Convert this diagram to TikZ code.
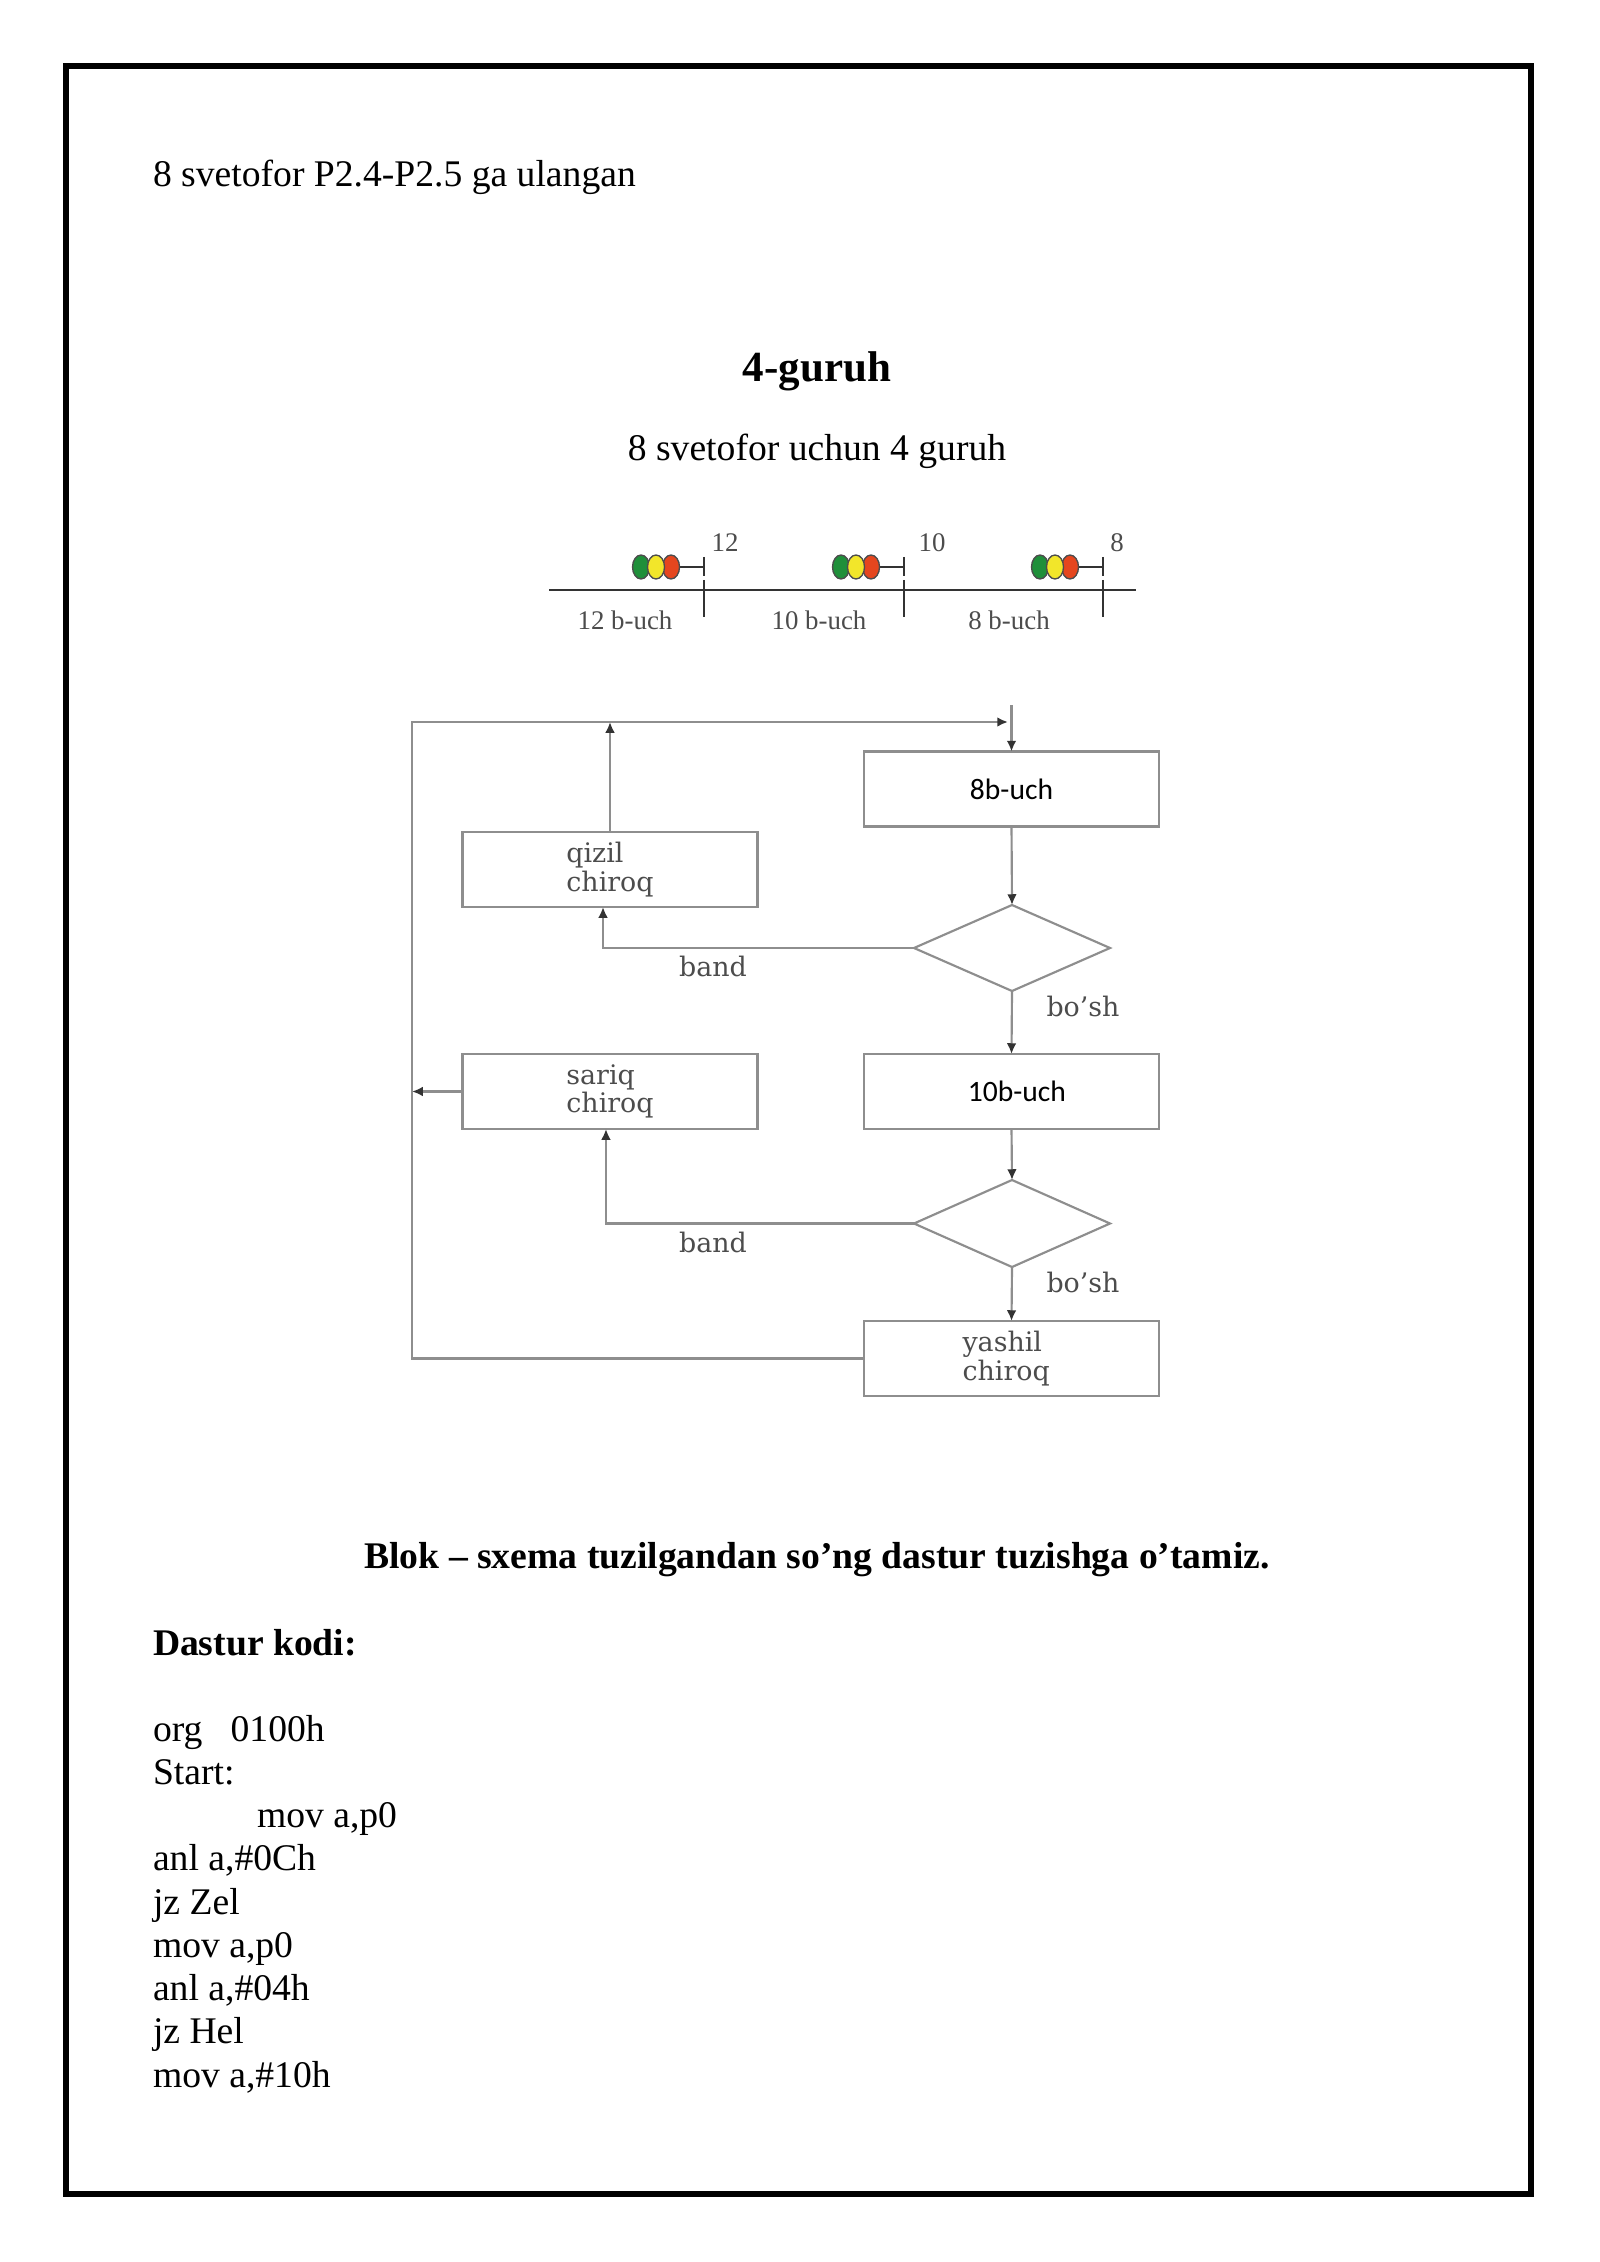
\documentclass[tikz,border=0pt]{standalone}
\usepackage{fontspec}
\setmainfont{Liberation Serif}
\newfontfamily\dejaserif{DejaVu Serif}
\newfontfamily\carl{Carlito}
\usetikzlibrary{shapes.geometric,arrows.meta}
\definecolor{lineg}{HTML}{8E8E8E}
\definecolor{txtg}{HTML}{4C4C4C}
\definecolor{tipc}{HTML}{333333}
\definecolor{lgreen}{HTML}{1F8F3A}
\definecolor{lyellow}{HTML}{F2E62A}
\definecolor{lred}{HTML}{E5461E}
\begin{document}
\begin{tikzpicture}[x=0.37205pt,y=-0.37205pt,
  every node/.style={inner sep=0pt,outer sep=0pt},
  maintext/.style={font=\fontsize{14}{16.1}\selectfont,anchor=base west},
  centertext/.style={font=\fontsize{14}{16.1}\selectfont,anchor=base},
  tl/.style={font=\fontsize{10}{12}\selectfont,text=txtg},
  fbox/.style={draw=lineg,line width=0.8pt,minimum width=295*0.37205pt,minimum height=75*0.37205pt},
  ltxt/.style={font=\dejaserif\fontsize{10}{8.8}\selectfont,text=txtg,align=left},
  ctxt/.style={font=\carl\fontsize{11}{13}\selectfont,text=black},
  dia/.style={draw=lineg,line width=0.8pt,diamond,minimum width=196*0.37205pt,minimum height=86*0.37205pt},
  lab/.style={font=\dejaserif\fontsize{10}{12}\selectfont,text=txtg},
  conn/.style={draw=lineg,line width=0.8pt},
  arr/.style={draw=lineg,line width=0.8pt,-{Latex[length=4pt,width=3.6pt,color=tipc]}},
  axis/.style={draw=black!80,line width=1.1pt}
]
\useasboundingbox (0,0) rectangle (1600,2262);
% page frame
\draw[line width=1.9pt] (66,66) rectangle (1531,2194);

% header texts
\node[maintext] (t1) at (153,187) {8 svetofor P2.4-P2.5 ga ulangan};
\node[centertext,font=\fontsize{16}{19}\selectfont\bfseries] (t2) at (817,382) {4-guruh};
\node[centertext] (t3) at (817,461) {8 svetofor uchun 4 guruh};

% timeline
\draw[axis] (549,590) -- (1136,590);
\foreach \t in {704,904,1103}{
  \draw[axis] (\t,580) -- (\t,617);
  \draw[axis,line width=0.9pt] (\t,557) -- (\t,576);
  \draw[axis,line width=0.9pt] (\t-30,567) -- (\t,567);
  \filldraw[fill=lred,draw=black!70,line width=0.5pt] (\t-33,567) ellipse [x radius=8.5,y radius=12];
  \filldraw[fill=lgreen,draw=black!70,line width=0.5pt] (\t-63,567) ellipse [x radius=8.5,y radius=12];
  \filldraw[fill=lyellow,draw=black!70,line width=0.5pt] (\t-48,567) ellipse [x radius=8.5,y radius=12];
}
\node[tl] (n12) at (725,543) {12};
\node[tl] (n10) at (932,543) {10};
\node[tl] (n8) at (1117,543) {8};
\node[tl] (l12) at (625,620) {12 b-uch};
\node[tl] (l10) at (819,620) {10 b-uch};
\node[tl] (l8) at (1009,620) {8 b-uch};

% flowchart nodes
\node[fbox,ctxt] (b8) at (1011.5,789) {8b-uch};
\node[fbox,ltxt] (qizil) at (610,869.5) {qizil\\chiroq};
\node[dia] (d1) at (1012,948) {};
\node[fbox,ctxt] (b10) at (1011.5,1091.5) {\hspace*{4pt}10b-uch};
\node[fbox,ltxt] (sariq) at (610,1091.5) {sariq\\chiroq};
\node[dia,minimum height=87*0.37205pt] (d2) at (1012,1223.5) {};
\node[fbox,ltxt] (yashil) at (1011.5,1358.5) {yashil\\chiroq\hspace*{4pt}};

\coordinate (cL) at (412,722);
\coordinate (cT) at (1008,722);
\coordinate (cV) at (1011.5,705);

% connectors
\draw[arr] (yashil.west) -| (cL) -- (cT);
\draw[arr] (cV) -- (b8.north);
\draw[arr] (qizil.north) -- (qizil.north |- cL);
\draw[arr] (b8.south) -- (d1.north);
\draw[arr] (d1.west) -| ([xshift=-2.6pt]qizil.south);
\draw[arr] (d1.south) -- (b10.north);
\draw[arr] (sariq.west) -- (sariq.west -| cL);
\draw[arr] (b10.south) -- (d2.north);
\draw[arr] (d2.west) -| ([xshift=-1.5pt]sariq.south);
\draw[arr] (d2.south) -- (yashil.north);

% connector labels
\node[lab] (band1) at (713,966) {band};
\node[lab] (bosh1) at (1083,1006) {bo’sh};
\node[lab] (band2) at (713,1242) {band};
\node[lab] (bosh2) at (1083,1282) {bo’sh};

% lower texts
\node[centertext,font=\fontsize{14}{16.1}\selectfont\bfseries] (t4) at (817,1568) {Blok – sxema tuzilgandan so’ng dastur tuzishga o’tamiz.};
\node[maintext,font=\fontsize{14}{16.1}\selectfont\bfseries] (t5) at (153,1655) {Dastur kodi:};
\node[maintext] (c1) at (153,1741) {org\ \ \ 0100h};
\node[maintext] (c2) at (153,1784) {Start:};
\node[maintext] (c3) at (257,1827) {mov a,p0};
\node[maintext] (c4) at (153,1870) {anl a,\#0Ch};
\node[maintext] (c5) at (153,1914) {jz Zel};
\node[maintext] (c6) at (153,1957) {mov a,p0};
\node[maintext] (c7) at (153,2000) {anl a,\#04h};
\node[maintext] (c8) at (153,2043) {jz Hel};
\node[maintext] (c9) at (153,2087) {mov a,\#10h};
\end{tikzpicture}
\end{document}
